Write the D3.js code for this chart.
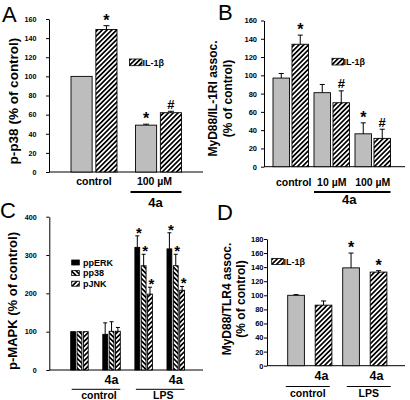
<!DOCTYPE html>
<html><head><meta charset="utf-8">
<script src="https://cdn.jsdelivr.net/npm/d3@7"></script>
<style>
body{margin:0;background:#fff;}
svg{display:block;font-family:"Liberation Sans",Arial,Helvetica,sans-serif;}
</style></head><body>
<svg id="c" width="410" height="400"></svg>
<script>
// ---------- Panel A ----------
const aGroups = ["control", "100 µM"];
const aSeries = ["none", "IL-1β"];
const aValues = [[100, 149], [49, 62]];
const aErrors = [[0, 4], [1, 1.5]];
const aMarks = [["", "*"], ["*", "#"]];
const aTicks = [0, 20, 40, 60, 80, 100, 120, 140, 160];

// ---------- Panel B ----------
const bGroups = ["control", "10 µM", "100 µM"];
const bSeries = ["none", "IL-1β"];
const bValues = [[97, 134], [81, 70], [36, 31]];
const bErrors = [[5, 10], [9, 13], [12, 10]];
const bMarks = [["", "*"], ["", "#"], ["*", "#"]];
const bTicks = [0, 20, 40, 60, 80, 100, 120, 140, 160];

// ---------- Panel C ----------
const cGroups = ["control", "control + 4a", "LPS", "LPS + 4a"];
const cGroupLabels = ["", "4a", "", "4a"];
const cSeries = ["ppERK", "pp38", "pJNK"];
const cValues = [[100, 100, 100], [93, 101, 101], [320, 272, 198], [316, 272, 208]];
const cErrors = [[0, 0, 0], [30, 25, 10], [30, 30, 18], [42, 30, 10]];
const cMarks = [["", "", ""], ["", "", ""], ["*", "*", "*"], ["*", "*", "*"]];
const cTicks = [0, 100, 200, 300, 400];

// ---------- Panel D ----------
const dBars = ["control", "control + 4a", "LPS", "LPS + 4a"];
const dLabels = ["", "4a", "", "4a"];
const dSeries = ["none", "IL-1β", "none", "IL-1β"];
const dValues = [100, 86, 139, 133];
const dErrors = [1, 6, 21, 2];
const dMarks = ["", "", "*", "*"];
const dTicks = [0, 20, 40, 60, 80, 100, 120, 140, 160, 180];

const FONT = '"Liberation Sans",Arial,Helvetica,sans-serif';
const GRAY = "#bdbdbd";
const svg = d3.select("#c");
const defs = svg.append("defs");
function hatch(id, angle) {
  const s = 3.4;
  const p = defs.append("pattern").attr("id", id).attr("patternUnits", "userSpaceOnUse")
    .attr("width", s).attr("height", s).attr("patternTransform", `rotate(${angle})`);
  p.append("rect").attr("width", s).attr("height", s).attr("fill", "#fff");
  p.append("line").attr("x1", s / 2).attr("y1", -1).attr("x2", s / 2).attr("y2", s + 1)
    .attr("stroke", "#000").attr("stroke-width", 1.7);
}
hatch("hr", 45);
hatch("hl", -45);
const fillOf = {"none": GRAY, "IL-1β": "url(#hr)", "ppERK": "#000", "pp38": "url(#hl)", "pJNK": "url(#hr)"};

function txt(x, y, s, size, opts = {}) {
  return svg.append("text").attr("x", x).attr("y", y).text(s)
    .attr("font-size", size).attr("font-weight", opts.weight || "bold")
    .attr("text-anchor", opts.anchor || "middle").attr("fill", "#000")
    .attr("font-family", FONT);
}
function yAxis(scale, ticks, x, xEnd, pad, fs) {
  const g = svg.append("g").attr("transform", `translate(${x},0)`)
    .call(d3.axisLeft(scale).tickValues(ticks).tickSize(3).tickSizeOuter(0).tickPadding(pad));
  g.attr("font-family", FONT).attr("font-size", fs).attr("font-weight", "bold");
  g.selectAll("path,line").attr("stroke", "#000");
  g.selectAll("text").attr("fill", "#000");
  svg.append("line").attr("x1", x).attr("x2", xEnd).attr("y1", scale(0)).attr("y2", scale(0))
    .attr("stroke", "#000").attr("stroke-width", 1);
}
function yTitle(lines, x0, cy, fs, gap) {
  lines.forEach((l, i) => {
    svg.append("text").attr("transform", `translate(${x0 + i * gap},${cy}) rotate(-90)`)
      .attr("text-anchor", "middle").attr("font-size", fs).attr("font-weight", "bold")
      .attr("font-family", FONT).text(l);
  });
}
function bar(y, x, w, v, e, fill, mark, capW, starSize, markDx = 0, starDy = 0) {
  svg.append("rect").attr("x", x).attr("y", y(v)).attr("width", w).attr("height", y(0) - y(v))
    .attr("fill", fill).attr("stroke", "#000").attr("stroke-width", 0.9);
  const top = y(v + e);
  if (e > 0) {
    const cx = x + w / 2;
    svg.append("line").attr("x1", cx).attr("x2", cx).attr("y1", y(v)).attr("y2", top)
      .attr("stroke", "#000").attr("stroke-width", 1);
    svg.append("line").attr("x1", cx - capW / 2).attr("x2", cx + capW / 2).attr("y1", top).attr("y2", top)
      .attr("stroke", "#000").attr("stroke-width", 1);
  }
  if (mark === "*") txt(x + w / 2 + markDx, top + starDy, "*", starSize);
  else if (mark === "#") txt(x + w / 2 + markDx, top - 2.5, "#", 13);
}
function bracket(x1, x2, yy, sw) {
  svg.append("line").attr("x1", x1).attr("x2", x2).attr("y1", yy).attr("y2", yy)
    .attr("stroke", "#000").attr("stroke-width", sw);
}
function legendBox(x, y, w, h, fill) {
  svg.append("rect").attr("x", x).attr("y", y).attr("width", w).attr("height", h)
    .attr("fill", fill).attr("stroke", "#000").attr("stroke-width", 0.8);
}

// ===== Panel A =====
txt(2, 22, "A", 22, {weight: "normal", anchor: "start"});
const yA = d3.scaleLinear().domain([0, 160]).range([172, 19]);
yAxis(yA, aTicks, 49, 203, 9.5, 7.2);
yTitle(["p-p38 (% of control)"], 18, 101, 13.5, 0);
const xA = d3.scaleBand().domain(aGroups).range([71, 181.5]).paddingInner(0.287);
const xAi = d3.scaleBand().domain(aSeries).range([0, xA.bandwidth()]).paddingInner(0.15);
aGroups.forEach((g, gi) => {
  aSeries.forEach((s, si) => {
    bar(yA, xA(g) + xAi(s), xAi.bandwidth(), aValues[gi][si], aErrors[gi][si], fillOf[s], aMarks[gi][si], 6, 16);
  });
  txt(xA(g) + xA.bandwidth() / 2 - (gi ? 4 : 0), 185, g, 10.5);
});
bracket(xA(aGroups[1]) - 5, xA(aGroups[1]) + xA.bandwidth(), 192, 2);
txt(xA(aGroups[1]) + xA.bandwidth() / 2 - 3, 207, "4a", 13);
legendBox(129.5, 59, 12.5, 6.7, "url(#hr)");
txt(142.5, 66, "IL-1β", 9, {anchor: "start"});

// ===== Panel B =====
txt(218, 20, "B", 22, {weight: "normal", anchor: "start"});
const yB = d3.scaleLinear().domain([0, 160]).range([166.7, 20.5]);
yAxis(yB, bTicks, 264, 405, 4, 7.5);
yTitle(["MyD88/IL-1RI assoc.", "(% of control)"], 217, 98.5, 12, 14.5);
const xB = d3.scaleBand().domain(bGroups).range([273, 390.5]).paddingInner(0.134);
const xBi = d3.scaleBand().domain(bSeries).range([0, xB.bandwidth()]).paddingInner(0.13);
bGroups.forEach((g, gi) => {
  bSeries.forEach((s, si) => {
    bar(yB, xB(g) + xBi(s), xBi.bandwidth(), bValues[gi][si], bErrors[gi][si], fillOf[s], bMarks[gi][si], 5, 16);
  });
  txt(xB(g) + xB.bandwidth() / 2 + (gi === 0 ? 3 : 0), 185.5, g, 10.5);
});
bracket(xB(bGroups[1]), xB(bGroups[2]) + xB.bandwidth(), 192, 2);
txt((xB(bGroups[1]) + xB(bGroups[2]) + xB.bandwidth()) / 2 - 3, 203.5, "4a", 13);
legendBox(332, 58.3, 11.5, 6.7, "url(#hr)");
txt(343.5, 65, "IL-1β", 9, {anchor: "start"});

// ===== Panel C =====
txt(0, 218, "C", 22, {weight: "normal", anchor: "start"});
const yC = d3.scaleLinear().domain([0, 400]).range([370, 216.7]);
yAxis(yC, cTicks, 49.3, 203, 9.5, 7.2);
yTitle(["p-MAPK (% of control)"], 17, 301, 13, 0);
const xC = d3.scaleBand().domain(cGroups).range([70.7, 184.5]).paddingInner(0.455);
const xCi = d3.scaleBand().domain(cSeries).range([0, xC.bandwidth()]).paddingInner(0.244);
cGroups.forEach((g, gi) => {
  cSeries.forEach((s, si) => {
    bar(yC, xC(g) + xCi(s), xCi.bandwidth(), cValues[gi][si], cErrors[gi][si], fillOf[s], cMarks[gi][si], 4, 15, 1.5, 2);
  });
  if (cGroupLabels[gi]) txt(xC(g) + xC.bandwidth() / 2, 383.5, cGroupLabels[gi], 12.5);
});
[[0, 1, "control"], [2, 3, "LPS"]].forEach(([i, j, lab]) => {
  const x1 = xC(cGroups[i]) + 1, x2 = xC(cGroups[j]) + xC.bandwidth();
  bracket(x1, x2, 389.3, 1);
  txt((x1 + x2) / 2 + 3, 398.5, lab, 10.5);
});
cSeries.forEach((s, i) => {
  legendBox(71.7, 260 + i * 10.6, 7.6, 5, fillOf[s]);
  txt(83, 265.5 + i * 10.6, s, 9, {anchor: "start"});
});

// ===== Panel D =====
txt(217, 220, "D", 22, {weight: "normal", anchor: "start"});
const yD = d3.scaleLinear().domain([0, 180]).range([365.7, 239]);
yAxis(yD, dTicks, 267, 405, 0.5, 7.5);
yTitle(["MyD88/TLR4 assoc.", "(% of control)"], 231, 299, 12, 14);
const xD = d3.scaleBand().domain(dBars).range([287.7, 386.9]).paddingInner(0.393);
dBars.forEach((b, i) => {
  bar(yD, xD(b), xD.bandwidth(), dValues[i], dErrors[i], fillOf[dSeries[i]], dMarks[i], 5, 16);
  if (dLabels[i]) txt(xD(b) + xD.bandwidth() / 2 - 2, 380, dLabels[i], 12.5);
});
[[0, 1, "control", -2], [2, 3, "LPS", 4]].forEach(([i, j, lab, dx]) => {
  const c = (xD(dBars[i]) + xD(dBars[j]) + xD.bandwidth()) / 2 + dx;
  bracket(c - 22, c + 22, 386.5, 1);
  txt(c, 396.5, lab, 10.5);
});
legendBox(271.7, 258.5, 11.6, 6, "url(#hr)");
txt(283.5, 264.5, "IL-1β", 9, {anchor: "start"});
</script>
</body></html>
